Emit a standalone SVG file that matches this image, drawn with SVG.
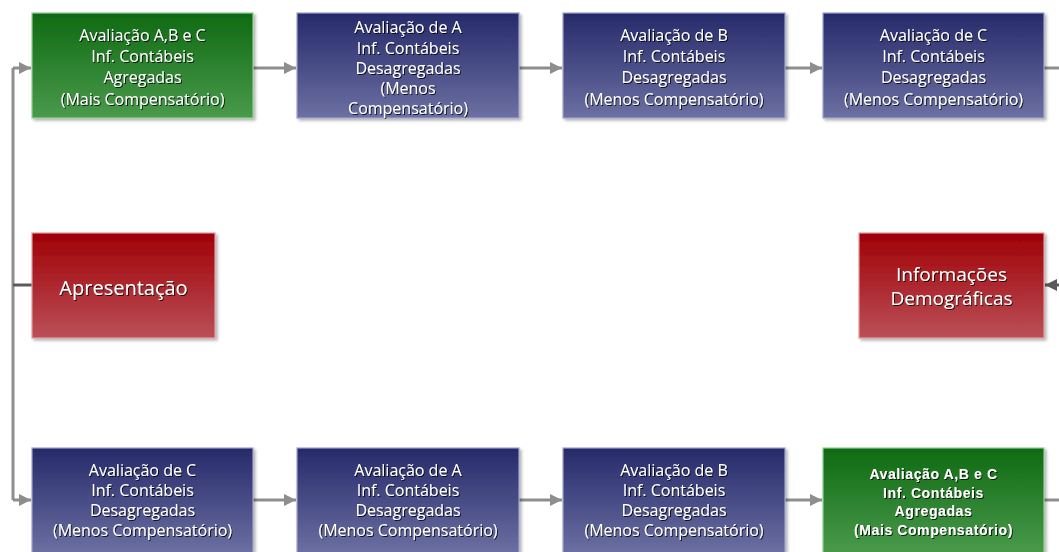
<svg xmlns="http://www.w3.org/2000/svg" width="1059" height="552" viewBox="0 0 1059 552">
<defs>
<linearGradient id="gGreen" x1="0" y1="0" x2="0" y2="1"><stop offset="0" stop-color="#0f6a12"/><stop offset="1" stop-color="#4a9a4c"/></linearGradient>
<linearGradient id="gBlue" x1="0" y1="0" x2="0" y2="1"><stop offset="0" stop-color="#262a6a"/><stop offset="1" stop-color="#6c70a2"/></linearGradient>
<linearGradient id="gRed" x1="0" y1="0" x2="0" y2="1"><stop offset="0" stop-color="#a00005"/><stop offset="1" stop-color="#ba5058"/></linearGradient>
<filter id="ts" x="-10%" y="-30%" width="120%" height="160%"><feDropShadow dx="1" dy="1" stdDeviation="0.7" flood-color="#000" flood-opacity="0.8"/></filter>
<filter id="bs" x="-5%" y="-5%" width="112%" height="115%"><feDropShadow dx="2" dy="2" stdDeviation="1.5" flood-color="#000" flood-opacity="0.3"/></filter>
<marker id="ah" viewBox="0 0 10 10" refX="10" refY="5" markerWidth="5" markerHeight="4" orient="auto" markerUnits="strokeWidth"><path d="M0,0 L10,5 L0,10 z" fill="#8e8e8e"/></marker>
<marker id="ahd" viewBox="0 0 10 10" refX="10" refY="5" markerWidth="5" markerHeight="4" orient="auto" markerUnits="strokeWidth"><path d="M0,0 L10,5 L0,10 z" fill="#5a5a5a"/></marker>
<style>
.green{fill:url(#gGreen);stroke:#8fcf8f;stroke-width:1.2;filter:url(#bs)}
.blue{fill:url(#gBlue);stroke:#9ea2cc;stroke-width:1.2;filter:url(#bs)}
.red{fill:url(#gRed);stroke:#e09a9e;stroke-width:1.2;filter:url(#bs)}
.t{font-family:"Open Sans","Noto Sans",sans-serif;font-size:16px;fill:#fff;text-anchor:middle;filter:url(#ts)}
.tb{font-family:"Liberation Sans",Arial,sans-serif;font-size:14px;font-weight:bold;letter-spacing:0.6px;fill:#fff;text-anchor:middle;filter:url(#ts)}
.tl{font-family:"Open Sans","Noto Sans",sans-serif;font-size:20px;fill:#fff;text-anchor:middle;filter:url(#ts)}
.tm{font-family:"Open Sans","Noto Sans",sans-serif;font-size:19px;fill:#fff;text-anchor:middle;filter:url(#ts)}
.c{fill:none;stroke:#8e8e8e;stroke-width:3}
.cd{fill:none;stroke:#5a5a5a;stroke-width:3}
</style>
</defs>
<rect width="1059" height="552" fill="#fff"/>
<g id="connectors">
<path class="c" d="M13,68 V500"/>
<path class="c" d="M13,68 H31" marker-end="url(#ah)"/>
<path class="c" d="M253,68 H296" marker-end="url(#ah)"/>
<path class="c" d="M519,68 H562" marker-end="url(#ah)"/>
<path class="c" d="M785,68 H822" marker-end="url(#ah)"/>
<path class="c" d="M1044,68 H1059"/>
<path class="cd" d="M13,285 H32"/>
<path class="cd" d="M1059,285 H1045" marker-end="url(#ahd)"/>
<path class="c" d="M13,500 H31" marker-end="url(#ah)"/>
<path class="c" d="M253,500 H296" marker-end="url(#ah)"/>
<path class="c" d="M519,500 H562" marker-end="url(#ah)"/>
<path class="c" d="M785,500 H822" marker-end="url(#ah)"/>
<path class="c" d="M1044,500 H1059"/>
</g>
<g id="n1"><rect class="green" x="32" y="13" width="221" height="105"/>
<text class="t"><tspan x="142.5" y="41">Avaliação A,B e C</tspan><tspan x="142.5" y="62">Inf. Contábeis</tspan><tspan x="142.5" y="83">Agregadas</tspan><tspan x="142.5" y="105">(Mais Compensatório)</tspan></text></g>
<g id="n2"><rect class="blue" x="297" y="13" width="222" height="105"/>
<text class="t"><tspan x="408" y="33">Avaliação de A</tspan><tspan x="408" y="54">Inf. Contábeis</tspan><tspan x="408" y="74">Desagregadas</tspan><tspan x="408" y="94">(Menos</tspan><tspan x="408" y="114">Compensatório)</tspan></text></g>
<g id="n3"><rect class="blue" x="563" y="13" width="222" height="105"/>
<text class="t"><tspan x="674" y="41">Avaliação de B</tspan><tspan x="674" y="62">Inf. Contábeis</tspan><tspan x="674" y="83">Desagregadas</tspan><tspan x="674" y="105">(Menos Compensatório)</tspan></text></g>
<g id="n4"><rect class="blue" x="823" y="13" width="221" height="105"/>
<text class="t"><tspan x="933.5" y="41">Avaliação de C</tspan><tspan x="933.5" y="62">Inf. Contábeis</tspan><tspan x="933.5" y="83">Desagregadas</tspan><tspan x="933.5" y="105">(Menos Compensatório)</tspan></text></g>
<g id="n5"><rect class="red" x="32" y="233" width="183" height="105"/>
<text class="tl" x="123.5" y="295">Apresentação</text></g>
<g id="n6"><rect class="red" x="859" y="233" width="185" height="105"/>
<text class="tm"><tspan x="951.5" y="281">Informações</tspan><tspan x="951.5" y="305">Demográficas</tspan></text></g>
<g id="n7"><rect class="blue" x="32" y="448" width="221" height="106"/>
<text class="t"><tspan x="142.5" y="476">Avaliação de C</tspan><tspan x="142.5" y="496">Inf. Contábeis</tspan><tspan x="142.5" y="516">Desagregadas</tspan><tspan x="142.5" y="536">(Menos Compensatório)</tspan></text></g>
<g id="n8"><rect class="blue" x="297" y="448" width="222" height="106"/>
<text class="t"><tspan x="408" y="476">Avaliação de A</tspan><tspan x="408" y="496">Inf. Contábeis</tspan><tspan x="408" y="516">Desagregadas</tspan><tspan x="408" y="536">(Menos Compensatório)</tspan></text></g>
<g id="n9"><rect class="blue" x="563" y="448" width="222" height="106"/>
<text class="t"><tspan x="674" y="476">Avaliação de B</tspan><tspan x="674" y="496">Inf. Contábeis</tspan><tspan x="674" y="516">Desagregadas</tspan><tspan x="674" y="536">(Menos Compensatório)</tspan></text></g>
<g id="n10"><rect class="green" x="823" y="448" width="221" height="106"/>
<text class="tb"><tspan x="933.5" y="479">Avaliação A,B e C</tspan><tspan x="933.5" y="497.5">Inf. Contábeis</tspan><tspan x="933.5" y="516">Agregadas</tspan><tspan x="933.5" y="534.5">(Mais Compensatório)</tspan></text></g>
</svg>
